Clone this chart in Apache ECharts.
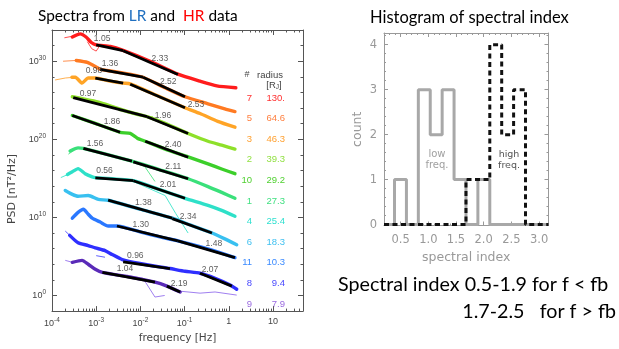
<!DOCTYPE html>
<html lang="en">
<head>
<meta charset="utf-8">
<script src="https://cdn.jsdelivr.net/npm/echarts@6.0.0/dist/echarts.min.js"></script>
</head>
<body style="margin:0;background:#fff">
<div id="main" style="width:619px;height:349px"></div>
<script>
// spectra: [log10 frequency (Hz), log10 PSD (nT^2/Hz)]
var probeIds  = ['7', '5', '3', '2', '10', '1', '4', '6', '11', '8', '9'];
var radii     = ['130.', '64.6', '46.3', '39.3', '29.2', '27.3', '25.4', '18.3', '10.3', '9.4', '7.9'];
var lowIndex  = ['1.05', '1.36', '0.98', '0.97', '1.86', '1.56', '0.56', '1.38', '1.30', '0.96', '1.04'];
var highIndex = ['2.33', '2.52', '2.53', '1.96', '2.40', '2.11', '2.01', '2.34', '1.48', '2.07', '2.19'];

// LR spectra (thick lines)
var lr7  = [[-3.54,33.1],[-3.36,33.5],[-3.23,33.1],[-3.11,32.4],[-3.0,32.1],[-2.68,31.9],[-2.39,31.4],[-1.78,30.0],[-1.15,28.35],[-0.65,27.45],[-0.27,26.85],[0.16,26.6]];
var lr5  = [[-3.45,30.1],[-3.2,29.85],[-2.98,29.2],[-2.91,28.95],[-2.4,28.5],[-1.94,27.95],[-1.44,26.6],[-0.99,25.45],[-0.47,24.55],[-0.09,23.9],[0.14,23.55]];
var lr3  = [[-3.55,27.95],[-3.47,27.95],[-3.32,27.2],[-3.18,27.85],[-3.02,27.85],[-2.68,27.45],[-2.39,27.2],[-2.23,27.1],[-1.56,25.45],[-0.99,24.05],[-0.65,23.3],[-0.25,22.3],[0.14,21.55]];
var lr2  = [[-3.54,25.45],[-2.91,24.7],[-2.28,23.55],[-1.85,22.9],[-1.44,22.05],[-0.92,20.75],[-0.47,19.75],[-0.16,19.25],[0.14,18.75]];
var lr10 = [[-3.54,23.05],[-3.02,22.05],[-2.46,20.9],[-2.23,20.75],[-2.07,20.15],[-1.89,19.75],[-1.44,18.75],[-0.92,17.75],[-0.47,16.85],[-0.16,16.2],[0.14,15.6]];
var lr1  = [[-3.59,18.5],[-3.41,18.9],[-3.29,18.85],[-2.19,17.2],[-1.56,16.1],[-0.92,14.95],[-0.47,13.95],[-0.16,13.2],[0.14,12.45]];
var lr4  = [[-3.65,15.5],[-3.54,15.85],[-3.41,16.25],[-3.25,15.6],[-3.09,15.2],[-3.02,15.1],[-2.16,14.7],[-1.56,13.55],[-0.99,12.45],[-0.47,11.55],[-0.16,10.9],[0.14,10.15]];
var lr6  = [[-3.7,13.45],[-3.54,12.95],[-3.41,12.7],[-3.18,12.8],[-2.95,12.3],[-2.73,12.2],[-2.01,11.05],[-1.28,9.9],[-0.88,9.05],[-0.38,8.0],[-0.09,7.25],[0.18,6.5]];
var lr11 = [[-3.54,9.9],[-3.41,10.65],[-3.29,11.05],[-3.18,10.4],[-3.09,9.9],[-2.91,9.4],[-2.73,8.9],[-2.53,8.9],[-2.01,8.15],[-1.56,7.5],[-1.15,7.0],[-0.65,6.25],[-0.2,5.5],[0.14,4.85]];
var lr8  = [[-3.6,7.7],[-3.41,6.75],[-3.18,6.4],[-3.02,6.1],[-2.8,5.75],[-2.64,5.25],[-2.41,4.6],[-2.01,4.1],[-1.33,3.45],[-0.99,3.1],[-0.65,2.85],[-0.31,2.2],[0.03,1.35],[0.18,0.8]];
var lr9  = [[-3.54,4.25],[-3.32,4.5],[-3.18,4.0],[-3.02,3.35],[-2.86,2.95],[-2.23,2.35],[-1.67,1.7],[-1.4,1.2],[-1.1,0.45]];

// HR spectra (thin lines), pieces
var hr7  = [[[-3.72,33.0],[-3.54,33.2],[-3.4,33.4]], [[-3.2,32.5],[-3.1,31.6],[-3.0,31.3],[-2.93,31.9]]];
var hr5  = [[[-3.75,30.0],[-3.45,30.1]]];
var hr3  = [[[-3.93,27.6],[-3.7,27.85],[-3.5,27.95]]];
var hr2  = [[[-2.5,23.7],[-2.05,23.0],[-1.72,22.9]]];
var hr10 = [];
var hr1  = [[[-3.63,18.1],[-3.5,18.6]], [[-2.19,17.2],[-1.9,16.5],[-1.67,14.6]]];
var hr4  = [[[-3.8,15.1],[-3.6,15.6]], [[-2.16,14.6],[-1.44,12.8],[-1.2,10.5],[-0.92,8.0]]];
var hr6  = [];
var hr11 = [];
var hr8  = [[[-3.7,8.25],[-3.54,7.4]], [[-3.0,5.1],[-2.8,4.9]]];
var hr9  = [[[-3.7,4.5],[-3.54,4.25]], [[-2.3,2.6],[-1.94,2.2],[-1.67,-0.2],[-1.45,0.0]], [[-1.1,0.55],[-0.65,0.3],[-0.31,0.45],[0.18,0.05]]];

// power-law fits below / above the break
var lowFits = [
  [[-3.0,32.1],[-2.39,31.35]], [[-2.91,28.95],[-1.94,27.95]], [[-3.02,27.85],[-2.39,27.2]],
  [[-3.52,25.35],[-1.85,22.9]], [[-3.54,23.05],[-2.46,20.9]], [[-3.29,18.85],[-2.19,17.2]],
  [[-3.02,15.05],[-2.16,14.7]], [[-2.73,12.2],[-1.28,9.9]], [[-2.53,8.9],[-1.15,7.0]],
  [[-2.39,4.3],[-1.33,3.45]], [[-2.86,2.95],[-1.67,1.7]]
];
var highFits = [
  [[-2.39,31.35],[-1.15,28.3]], [[-1.94,27.95],[-0.99,25.45]], [[-2.23,27.05],[-0.99,24.05]],
  [[-1.85,22.9],[-0.92,20.75]], [[-1.89,19.75],[-0.92,17.7]], [[-2.16,17.1],[-0.92,14.95]],
  [[-2.16,14.7],[-0.99,12.45]], [[-1.28,9.85],[-0.38,8.0]], [[-1.15,7.0],[0.14,4.85]],
  [[-0.65,2.85],[0.07,1.2]], [[-1.4,1.2],[-1.1,0.45]]
];

// histogram of spectral index
var binEdges   = [0.39, 0.605, 0.82, 1.035, 1.25, 1.465, 1.68, 1.895, 2.11, 2.325, 2.54, 2.755];
var lowCounts  = [1, 0, 3, 2, 3, 1, 0, 1, 0, 0, 0];
var highCounts = [0, 0, 0, 0, 0, 0, 1, 1, 4, 2, 3];

// styling
var lineColors  = ['#ff1c1c','#ff7a22','#ffa426','#8ee02a','#3ccf2a','#3ae07a','#2ee0c8','#38c0f0','#2a78ff','#2f2fff','#5a2ab8'];
var thinColors  = ['#ff5050','#ff9050','#ffb050','#a0e860','#60d850','#60e890','#50e8d0','#60c8f0','#5090ff','#6060ff','#a080f0'];
var labelColors = ['#ff3030','#ff8040','#ffa030','#90e040','#50d030','#40e080','#30e0d0','#40c0f0','#3a8aff','#4a4aff','#9a6ae0'];
var lowLabelAt  = [0.22, 0.23, -0.05, 0.2, 0.83, 0.24, 0.24, 0.55, 0.39, 0.26, 0.43];
var highLabelAt = [0.67, 0.6, 1.2, 0.39, 0.65, 0.73, 0.67, 0.4, 0.63, 0.31, 0.92];

var lrSpectra = [lr7, lr5, lr3, lr2, lr10, lr1, lr4, lr6, lr11, lr8, lr9];
var hrSpectra = [hr7, hr5, hr3, hr2, hr10, hr1, hr4, hr6, hr11, hr8, hr9];

var FONT = 'Liberation Sans';
var dom = document.getElementById('main');
var myChart = echarts.init(dom);

function range(a, b, step, skip) {
  var out = [];
  for (var v = a; v <= b + 1e-9; v += step) {
    var r = Math.round(v * 100) / 100;
    if (!skip || !skip(r)) out.push(r);
  }
  return out;
}
// log minor ticks on the frequency axis
var fMinor = [];
for (var n = -4; n <= 1; n++) {
  for (var k = 2; k <= 9; k++) {
    var v = n + Math.log10(k);
    if (v < 1.68) fMinor.push(v);
  }
}
var fMajor = [-4, -3, -2, -1, 0, 1];
var pMajor = [0, 10, 20, 30];
var pMinor = range(-2, 34, 2, function (v) { return v % 10 === 0; });
var sMajor = [0.5, 1.0, 1.5, 2.0, 2.5, 3.0];
var sMinor = range(0.3, 3.1, 0.1, function (v) { return Math.abs(v * 2 - Math.round(v * 2)) < 1e-6; });
var cMajor = [0, 1, 2, 3, 4];
var cMinor = range(0.2, 4.2, 0.2, function (v) { return Math.abs(v - Math.round(v)) < 1e-6; });

var powRich = {
  b: { fontSize: 9, color: '#444', fontFamily: FONT },
  s: { fontSize: 6.5, color: '#444', fontFamily: FONT, padding: [0, 0, 6, 0] }
};

function frameAxis(grid, pos, min, max, ticks, len, color, extra) {
  var ax = {
    type: 'value', gridIndex: grid, position: pos, min: min, max: max,
    splitLine: { show: false },
    axisLine: { show: !!(extra && extra.line), onZero: false, lineStyle: { color: color, width: 1 } },
    axisTick: { show: true, inside: true, length: len, customValues: ticks, lineStyle: { color: color } },
    axisLabel: { show: false }
  };
  if (extra && extra.label) ax.axisLabel = extra.label;
  if (extra && extra.name) {
    ax.name = extra.name.text; ax.nameLocation = 'middle'; ax.nameGap = extra.name.gap;
    ax.nameTextStyle = extra.name.style;
    if (extra.name.rotate != null) ax.nameRotate = extra.name.rotate;
  }
  return ax;
}

var xAxes = [
  frameAxis(0, 'bottom', -4, 1.68, fMajor, 5, '#555', {
    line: true,
    label: {
      show: true, customValues: fMajor, margin: 6, rich: powRich,
      formatter: function (v) {
        var n = Math.round(v);
        if (n === 0) return '{b|1}';
        if (n === 1) return '{b|10}';
        return '{b|10}{s|' + n + '}';
      }
    },
    name: { text: 'frequency [Hz]', gap: 18, style: { fontSize: 10.5, color: '#444', fontFamily: 'DejaVu Sans' } }
  }),
  frameAxis(0, 'bottom', -4, 1.68, fMinor, 2.5, '#555'),
  frameAxis(0, 'top', -4, 1.68, fMajor, 5, '#555', { line: true }),
  frameAxis(0, 'top', -4, 1.68, fMinor, 2.5, '#555'),
  frameAxis(1, 'bottom', 0.2, 3.17, sMajor, 4, '#999', {
    line: true,
    label: {
      show: true, customValues: sMajor, margin: 9, fontSize: 11.5, color: '#999', fontFamily: 'DejaVu Sans',
      formatter: function (v) { return v.toFixed(1); }
    },
    name: { text: 'spectral index', gap: 24, style: { fontSize: 12.5, color: '#999', fontFamily: 'DejaVu Sans' } }
  }),
  frameAxis(1, 'bottom', 0.2, 3.17, sMinor, 2, '#999'),
  frameAxis(1, 'top', 0.2, 3.17, sMajor, 4, '#999', { line: true }),
  frameAxis(1, 'top', 0.2, 3.17, sMinor, 2, '#999')
];

var yAxes = [
  frameAxis(0, 'left', -2, 34, pMajor, 5, '#555', {
    line: true,
    label: {
      show: true, customValues: pMajor, margin: 6, rich: powRich,
      formatter: function (v) { return '{b|10}{s|' + Math.round(v) + '}'; }
    }
  }),
  frameAxis(0, 'left', -2, 34, pMinor, 2.5, '#555'),
  frameAxis(0, 'right', -2, 34, pMajor, 5, '#555', { line: true }),
  frameAxis(0, 'right', -2, 34, pMinor, 2.5, '#555'),
  frameAxis(1, 'left', -0.02, 4.26, cMajor, 4, '#999', {
    line: true,
    label: { show: true, customValues: cMajor, margin: 7, fontSize: 11.5, color: '#999', fontFamily: 'DejaVu Sans' },
    name: { text: 'count', gap: 20, rotate: 90, style: { fontSize: 12.5, color: '#999', fontFamily: 'DejaVu Sans' } }
  }),
  frameAxis(1, 'left', -0.02, 4.26, cMinor, 2, '#999'),
  frameAxis(1, 'right', -0.02, 4.26, cMajor, 4, '#999', { line: true }),
  frameAxis(1, 'right', -0.02, 4.26, cMinor, 2, '#999')
];

var series = [];
var fitLabels = [];
probeIds.forEach(function (id, i) {
  hrSpectra[i].forEach(function (seg) {
    series.push({
      type: 'line', xAxisIndex: 0, yAxisIndex: 0, data: seg, symbol: 'none', silent: true, z: 2,
      lineStyle: { color: thinColors[i], width: 1 }
    });
  });
  series.push({
    type: 'line', xAxisIndex: 0, yAxisIndex: 0, data: lrSpectra[i], symbol: 'none', smooth: 0.2, silent: true, z: 3,
    lineStyle: { color: lineColors[i], width: 3.4, cap: 'round', join: 'round' }
  });
  [[lowFits[i], lowIndex[i], lowLabelAt[i]], [highFits[i], highIndex[i], highLabelAt[i]]].forEach(function (f) {
    var a = f[0][0], b = f[0][1], t = f[2];
    series.push({
      type: 'line', xAxisIndex: 0, yAxisIndex: 0, data: f[0], symbol: 'none', silent: true, z: 4,
      lineStyle: { color: '#000', width: 2.8 }
    });
    fitLabels.push([a[0] + (b[0] - a[0]) * t, a[1] + (b[1] - a[1]) * t, f[1]]);
  });
});
series.push({
  type: 'scatter', xAxisIndex: 0, yAxisIndex: 0, data: fitLabels, symbolSize: 0, silent: true, z: 5,
  label: {
    show: true, position: 'top', distance: 3, fontSize: 8.5, color: '#333', fontFamily: FONT,
    formatter: function (p) { return p.data[2]; }
  }
});

function stepPoints(counts, xmin, xmax) {
  var pts = [[xmin, 0]], prev = 0;
  for (var i = 0; i < counts.length; i++) {
    pts.push([binEdges[i], prev]);
    pts.push([binEdges[i], counts[i]]);
    prev = counts[i];
  }
  pts.push([binEdges[counts.length], prev]);
  pts.push([binEdges[counts.length], 0]);
  pts.push([xmax, 0]);
  return pts;
}
series.push({
  type: 'line', xAxisIndex: 4, yAxisIndex: 4, data: stepPoints(lowCounts, 0.2, 3.17), symbol: 'none', silent: true, z: 2,
  lineStyle: { color: '#a8a8a8', width: 3 }
});
series.push({
  type: 'line', xAxisIndex: 4, yAxisIndex: 4, data: stepPoints(highCounts, 0.2, 3.17), symbol: 'none', silent: true, z: 3,
  lineStyle: { color: '#111', width: 3, type: [5, 3.5] }
});

function centered(x, y, text, fill, font, extra) {
  var st = { text: text, fill: fill, font: font, align: 'center', textAlign: 'center',
             verticalAlign: 'middle', textVerticalAlign: 'middle' };
  for (var key in (extra || {})) st[key] = extra[key];
  return { type: 'text', x: x, y: y, style: st };
}

var graphics = [
  { type: 'text', x: 38, y: 16, style: {
      text: 'Spectra from {l|LR} and  {h|HR} data', fill: '#000', font: '15.4px Lato',
      verticalAlign: 'middle', textVerticalAlign: 'middle',
      rich: { l: { fill: '#1f6fc0', color: '#1f6fc0', fontSize: 15.4, fontFamily: 'Lato' },
              h: { fill: '#ff0000', color: '#ff0000', fontSize: 15.4, fontFamily: 'Lato' } } } },
  { type: 'text', x: 370, y: 18, style: {
      text: 'Histogram of spectral index', fill: '#000', font: '16.5px Lato',
      verticalAlign: 'middle', textVerticalAlign: 'middle' } },
  { type: 'text', x: 338, y: 285, style: {
      text: 'Spectral index 0.5-1.9 for f < fb', fill: '#000', font: '19.7px Lato',
      verticalAlign: 'middle', textVerticalAlign: 'middle' } },
  { type: 'text', x: 616, y: 312, style: {
      text: '1.7-2.5   for f > fb', fill: '#000', font: '19.7px Lato',
      align: 'right', textAlign: 'right', verticalAlign: 'middle', textVerticalAlign: 'middle' } },
  { type: 'text', x: 12, y: 189, rotation: Math.PI / 2, style: {
      text: 'PSD [nT\u00b2/Hz]', fill: '#444', font: '11px "DejaVu Sans"',
      align: 'center', textAlign: 'center', verticalAlign: 'middle', textVerticalAlign: 'middle' } },
  centered(437, 160, 'low\nfreq.', '#a0a0a0', '10px "DejaVu Sans"', { lineHeight: 11 }),
  centered(509, 160, 'high\nfreq.', '#555', '9.5px "DejaVu Sans"', { lineHeight: 11 }),
  centered(247, 75, '#', '#444', '9px "Liberation Sans"'),
  centered(270, 75, 'radius', '#444', '9.5px "Liberation Sans"'),
  centered(274, 85, '[R{s|J}]', '#444', '9.5px "Liberation Sans"',
    { rich: { s: { fontSize: 6.5, fill: '#444', padding: [4, 0, 0, 0] } } })
];
probeIds.forEach(function (id, i) {
  var y = 98 + i * 20.6;
  graphics.push({ type: 'text', x: 252, y: y, style: {
    text: id, fill: labelColors[i], font: '9.5px "Liberation Sans"',
    align: 'right', textAlign: 'right', verticalAlign: 'middle', textVerticalAlign: 'middle' } });
  graphics.push({ type: 'text', x: 285, y: y, style: {
    text: radii[i], fill: labelColors[i], font: '9.5px "Liberation Sans"',
    align: 'right', textAlign: 'right', verticalAlign: 'middle', textVerticalAlign: 'middle' } });
});

var option = {
  animation: false,
  backgroundColor: '#fff',
  grid: [
    { left: 52, top: 30, width: 251, height: 284 },
    { left: 384, top: 33, width: 164.5, height: 192.5 }
  ],
  xAxis: xAxes,
  yAxis: yAxes,
  series: series,
  graphic: graphics
};
myChart.setOption(option);
</script>
</body>
</html>
